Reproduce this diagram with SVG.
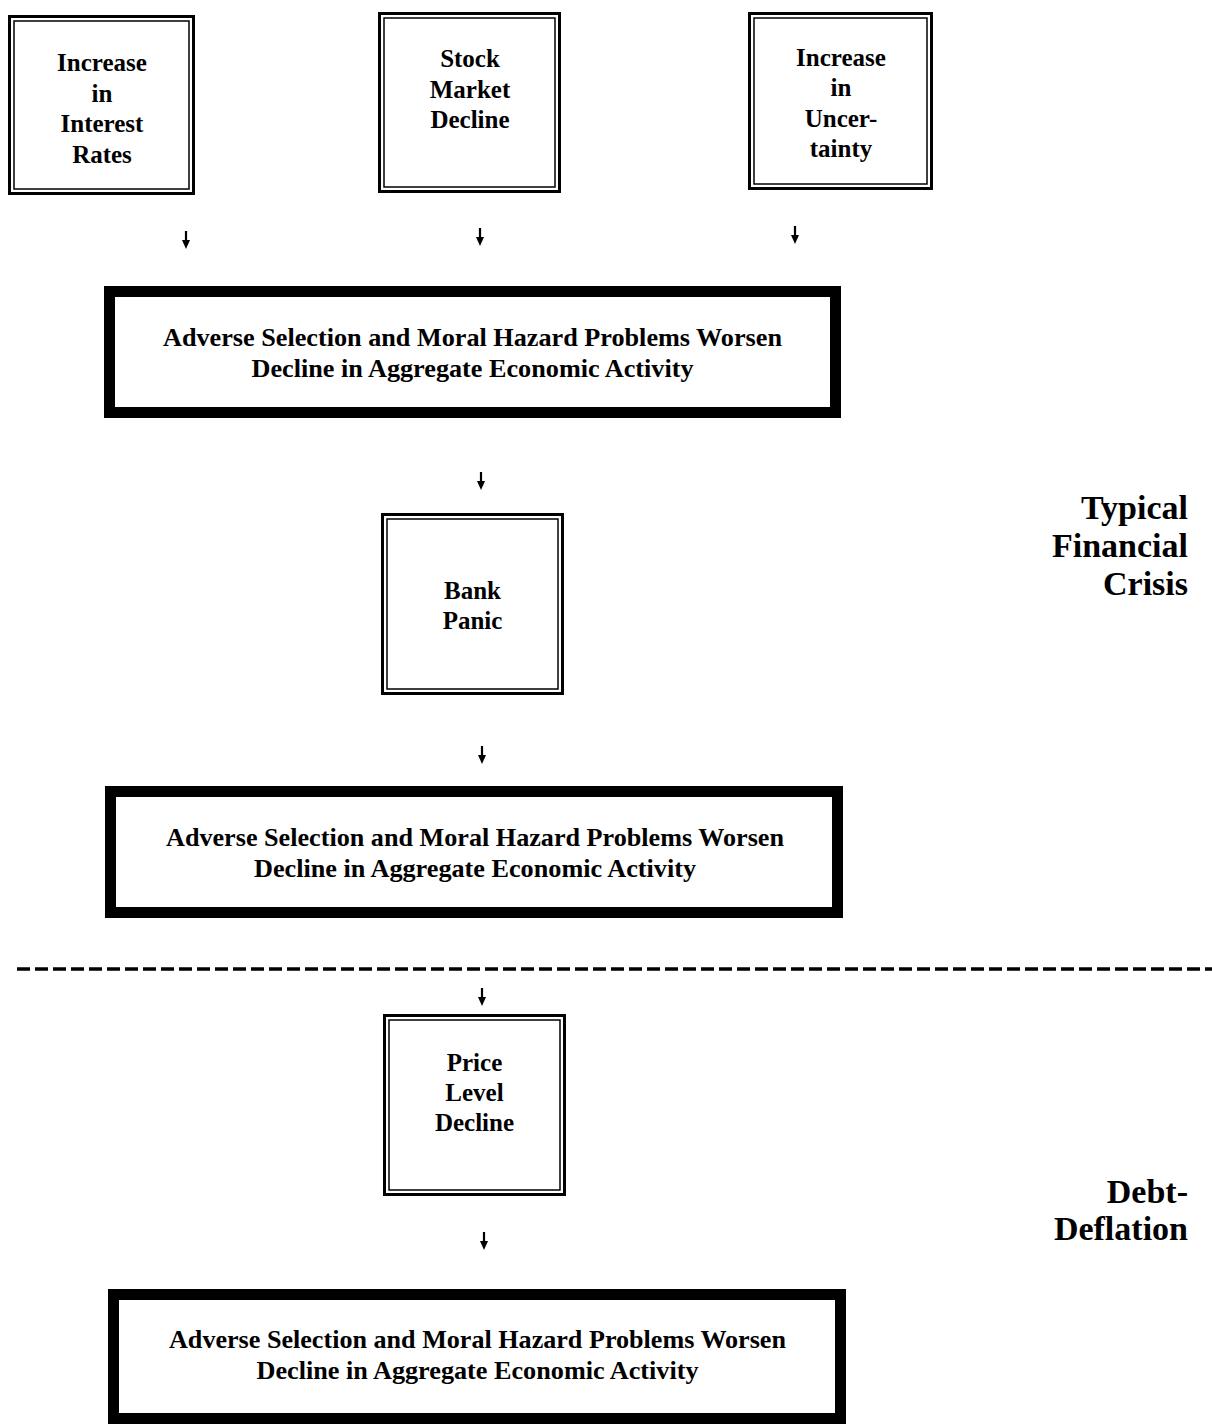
<svg xmlns="http://www.w3.org/2000/svg" width="1212" height="1424" viewBox="0 0 1212 1424">
<style>
text{font-family:"Liberation Serif","Times New Roman",serif;font-weight:bold;fill:#000}
.n{font-size:25px;text-anchor:middle}
.w{font-size:26px;text-anchor:middle}
.s{font-size:34px;text-anchor:end}
.o{fill:#fff;stroke:#000;stroke-width:3}
.i{fill:none;stroke:#000;stroke-width:1.5}
.t{fill:#fff;stroke:#000;stroke-width:11}
.sh{stroke:#000;stroke-width:2.2;fill:none}
.hd{fill:#000}
</style>
<rect width="1212" height="1424" fill="#fff"/>
<g id="node-interest">
<rect class="o" x="9.5" y="16.5" width="184" height="177"/>
<rect class="i" x="14" y="21" width="175" height="168"/>
<text class="n" x="102" y="71">Increase</text>
<text class="n" x="102" y="102">in</text>
<text class="n" x="102" y="132">Interest</text>
<text class="n" x="102" y="163">Rates</text>
</g>
<g id="node-stock">
<rect class="o" x="379.5" y="13.5" width="180" height="178"/>
<rect class="i" x="384" y="18" width="171" height="169"/>
<text class="n" x="470" y="67">Stock</text>
<text class="n" x="470" y="98">Market</text>
<text class="n" x="470" y="128">Decline</text>
</g>
<g id="node-uncertainty">
<rect class="o" x="749.5" y="13.5" width="182" height="175"/>
<rect class="i" x="754" y="18" width="173" height="166"/>
<text class="n" x="841" y="66">Increase</text>
<text class="n" x="841" y="96">in</text>
<text class="n" x="841" y="127">Uncer-</text>
<text class="n" x="841" y="157">tainty</text>
</g>
<g id="node-adverse1">
<rect class="t" x="109.5" y="291.5" width="726" height="121"/>
<text class="w" x="472.5" y="346" textLength="619" lengthAdjust="spacingAndGlyphs">Adverse Selection and Moral Hazard Problems Worsen</text>
<text class="w" x="472.5" y="377" textLength="442" lengthAdjust="spacingAndGlyphs">Decline in Aggregate Economic Activity</text>
</g>
<g id="node-bank">
<rect class="o" x="382.5" y="514.5" width="180" height="179"/>
<rect class="i" x="387" y="519" width="171" height="170"/>
<text class="n" x="472.5" y="599">Bank</text>
<text class="n" x="472.5" y="629">Panic</text>
</g>
<g id="node-adverse2">
<rect class="t" x="110.5" y="791.5" width="727" height="121"/>
<text class="w" x="475" y="846" textLength="618" lengthAdjust="spacingAndGlyphs">Adverse Selection and Moral Hazard Problems Worsen</text>
<text class="w" x="475" y="877" textLength="442" lengthAdjust="spacingAndGlyphs">Decline in Aggregate Economic Activity</text>
</g>
<g id="node-price">
<rect class="o" x="384.5" y="1015.5" width="180" height="179"/>
<rect class="i" x="389" y="1020" width="171" height="170"/>
<text class="n" x="474.5" y="1071">Price</text>
<text class="n" x="474.5" y="1101">Level</text>
<text class="n" x="474.5" y="1131">Decline</text>
</g>
<g id="node-adverse3">
<rect class="t" x="113.5" y="1294.5" width="727" height="124"/>
<text class="w" x="477.5" y="1348" textLength="617" lengthAdjust="spacingAndGlyphs">Adverse Selection and Moral Hazard Problems Worsen</text>
<text class="w" x="477.5" y="1379" textLength="442" lengthAdjust="spacingAndGlyphs">Decline in Aggregate Economic Activity</text>
</g>
<g id="label-typical">
<text class="s" x="1188" y="519">Typical</text>
<text class="s" x="1188" y="557">Financial</text>
<text class="s" x="1188" y="595">Crisis</text>
</g>
<g id="label-debt">
<text class="s" x="1188" y="1203">Debt-</text>
<text class="s" x="1188" y="1240">Deflation</text>
</g>
<g id="divider">
<line x1="17" y1="969" x2="1212" y2="969" stroke="#000" stroke-width="3.5" stroke-dasharray="13 5"/>
</g>
<g id="connectors">
<line class="sh" x1="186" y1="231" x2="186" y2="242"/><polygon class="hd" points="182,240 190,240 186,249"/>
<line class="sh" x1="480" y1="228" x2="480" y2="239"/><polygon class="hd" points="476,237 484,237 480,246"/>
<line class="sh" x1="795" y1="226" x2="795" y2="237"/><polygon class="hd" points="791,235 799,235 795,244"/>
<line class="sh" x1="481" y1="472" x2="481" y2="483"/><polygon class="hd" points="477,481 485,481 481,490"/>
<line class="sh" x1="482" y1="746" x2="482" y2="757"/><polygon class="hd" points="478,755 486,755 482,764"/>
<line class="sh" x1="482" y1="988" x2="482" y2="999"/><polygon class="hd" points="478,997 486,997 482,1006"/>
<line class="sh" x1="484" y1="1232" x2="484" y2="1243"/><polygon class="hd" points="480,1241 488,1241 484,1250"/>
</g>
</svg>
